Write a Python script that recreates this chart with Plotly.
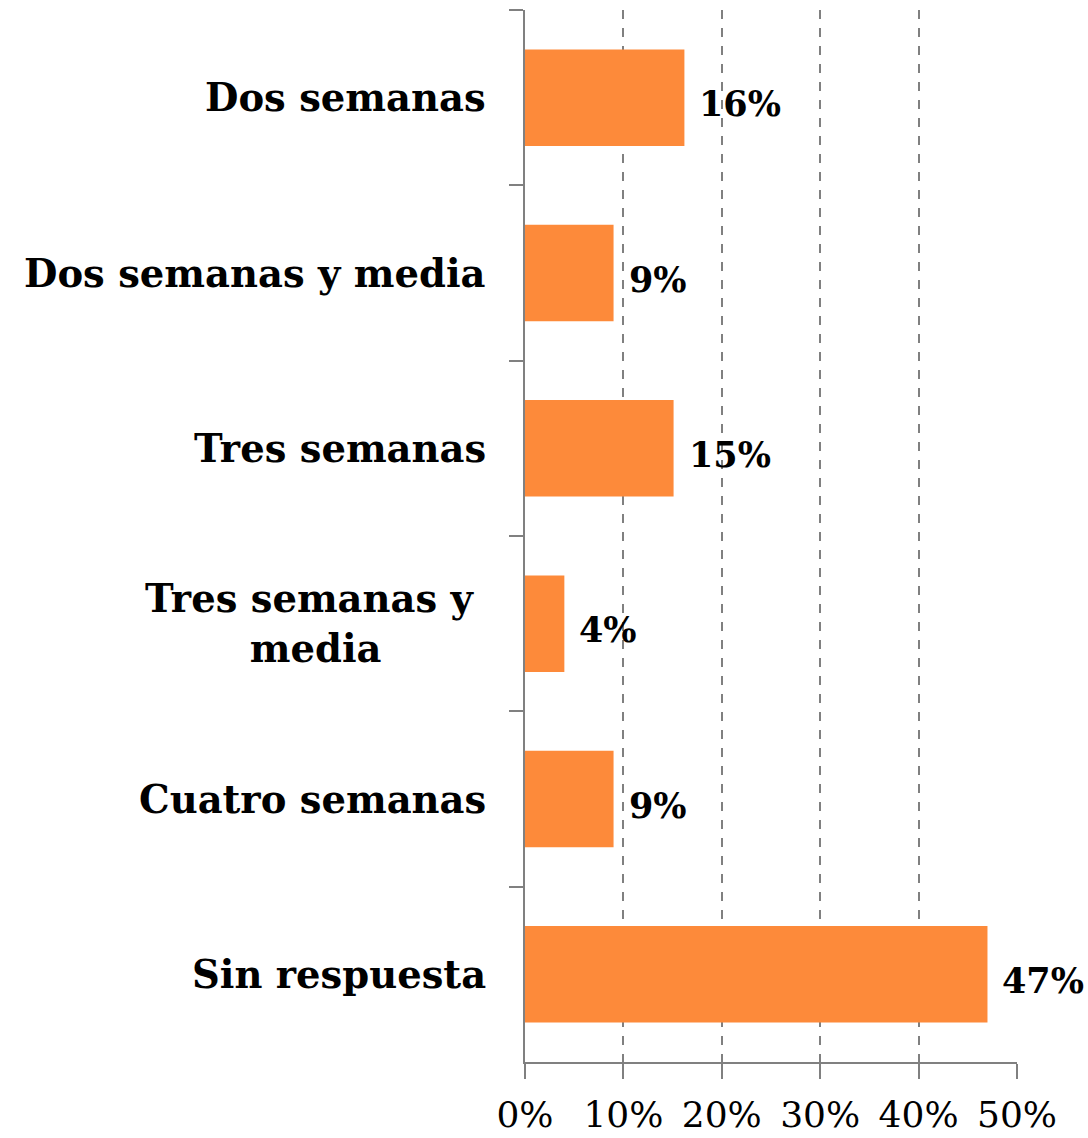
import plotly.graph_objects as go

categories = ["Dos semanas", "Dos semanas y media", "Tres semanas",
              "Tres semanas y media", "Cuatro semanas", "Sin respuesta"]
cat_labels = ["Dos semanas", "Dos semanas y media", "Tres semanas",
              "Tres semanas y <br>media", "Cuatro semanas", "Sin respuesta"]
values = [16.2, 9.0, 15.1, 4.0, 9.0, 47.0]
value_labels = ["16%", "9%", "15%", "4%", "9%", "47%"]
tick_vals = [0, 10, 20, 30, 40, 50]
tick_text = ["0%", "10%", "20%", "30%", "40%", "50%"]

FONT = "DejaVu Serif"
AXIS = "#808080"
BAR = "#FD8A3A"

fig = go.Figure(go.Bar(
    y=categories, x=values, orientation="h",
    marker=dict(color=BAR, line=dict(width=0)),
    hoverinfo="skip",
))

annotations = []
for c, lab in zip(categories, cat_labels):
    annotations.append(dict(
        xref="paper", yref="y", x=0, y=c, xanchor="right", yanchor="middle",
        xshift=-37, text=lab, showarrow=False, align="center",
        font=dict(family=FONT, size=38.5, color="#000000", weight="bold"),
    ))
for c, v, t in zip(categories, values, value_labels):
    annotations.append(dict(
        xref="x", yref="y", x=v, y=c, xanchor="left", yanchor="middle",
        xshift=13, yshift=-6, text=t, showarrow=False,
        font=dict(family=FONT, size=35, color="#000000", weight="bold"),
    ))

fig.update_layout(
    width=1088, height=1138,
    margin=dict(l=525, r=71, t=10, b=76, autoexpand=False),
    paper_bgcolor="white", plot_bgcolor="white",
    bargap=0.45, showlegend=False,
    annotations=annotations,
    xaxis=dict(
        range=[0, 50], tickvals=tick_vals, ticktext=tick_text,
        showgrid=True, gridcolor=AXIS, griddash="dash", gridwidth=1.5,
        zeroline=False, showline=True, linecolor=AXIS, linewidth=2,
        ticks="outside", ticklen=15, tickwidth=2, tickcolor=AXIS,
        ticklabelstandoff=5, automargin=False,
        tickfont=dict(family=FONT, size=36, color="#000000"),
    ),
    yaxis=dict(
        autorange="reversed", showticklabels=False,
        showgrid=False, zeroline=False, showline=True,
        linecolor=AXIS, linewidth=2, automargin=False,
        ticks="outside", tickson="boundaries", ticklen=14,
        tickwidth=2, tickcolor=AXIS,
    ),
)

fig.write_html("out.html", config={"displayModeBar": False},
               post_script="document.body.style.margin='0';")
